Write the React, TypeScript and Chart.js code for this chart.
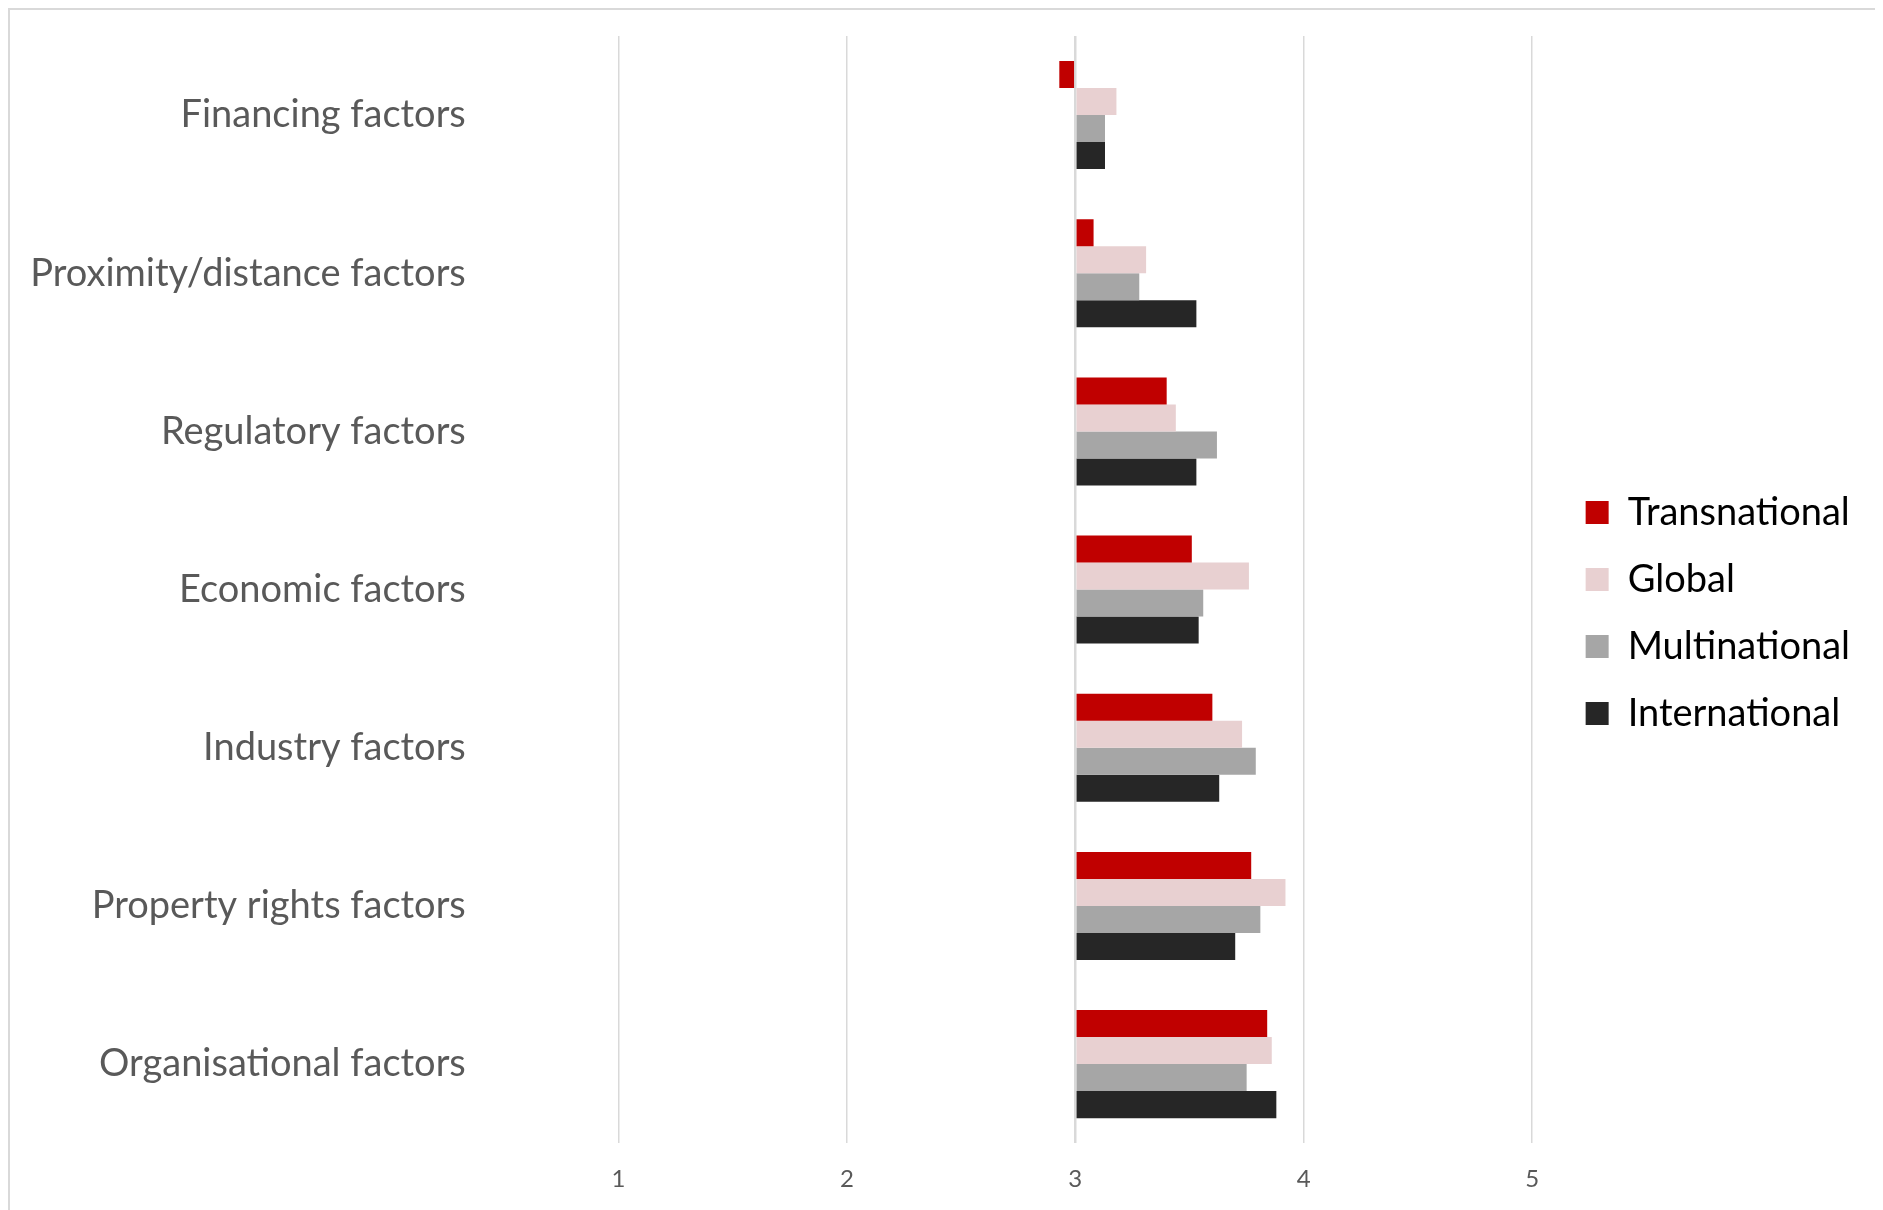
import React, { useEffect, useRef } from "react";
import { Chart, registerables } from "chart.js";

Chart.register(...registerables);

const categories = [
  "Financing factors",
  "Proximity/distance factors",
  "Regulatory factors",
  "Economic factors",
  "Industry factors",
  "Property rights factors",
  "Organisational factors",
];
const transnationalValues = [2.93, 3.08, 3.4, 3.51, 3.6, 3.77, 3.84];
const globalValues = [3.18, 3.31, 3.44, 3.76, 3.73, 3.92, 3.86];
const multinationalValues = [3.13, 3.28, 3.62, 3.56, 3.79, 3.81, 3.75];
const internationalValues = [3.13, 3.53, 3.53, 3.54, 3.63, 3.7, 3.88];
const xTickValues = [1, 2, 3, 4, 5];
const seriesNames = ["Transnational", "Global", "Multinational", "International"];
const seriesColors = ["#C00000", "#E8D0D1", "#A6A6A6", "#262626"];

export default function App() {
  const canvasRef = useRef<HTMLCanvasElement | null>(null);

  useEffect(() => {
    document.body.style.overflow = "hidden";
    document.documentElement.style.overflow = "hidden";
    const canvas = canvasRef.current;
    if (!canvas) return;
    const seriesData = [transnationalValues, globalValues, multinationalValues, internationalValues];
    const chart = new Chart(canvas, {
      type: "bar",
      data: {
        labels: categories,
        datasets: seriesNames.map((name, i) => ({
          label: name,
          data: seriesData[i],
          backgroundColor: seriesColors[i],
          borderWidth: 0,
          base: 3,
          barPercentage: 1,
          categoryPercentage: 0.683,
        })),
      },
      options: {
        indexAxis: "y",
        animation: false,
        responsive: false,
        devicePixelRatio: 1,
        layout: { padding: { top: 0, bottom: 0, left: 0, right: 0 } },
        plugins: {
          legend: {
            position: "right",
            align: "center",
            labels: {
              boxWidth: 23,
              boxHeight: 23,
              padding: 29,
              color: "#000000",
              font: { family: "Lato", size: 38 },
            },
          },
          tooltip: { enabled: false },
        },
        scales: {
          x: {
            type: "linear",
            min: 0.346,
            max: 5.107,
            afterBuildTicks: (scale: any) => {
              scale.ticks = xTickValues.map((v) => ({ value: v }));
            },
            grid: {
              color: "#d9d9d9",
              lineWidth: (ctx: any) => (ctx.tick && ctx.tick.value === 3 ? 2.5 : 1.5),
              drawTicks: false,
            },
            border: { display: false },
            ticks: {
              padding: 22,
              color: "#595959",
              font: { family: "Lato", size: 24 },
            },
          },
          y: {
            afterFit: (scale: any) => {
              scale.width = 459;
            },
            grid: { display: false, drawTicks: false },
            border: { display: false },
            ticks: {
              padding: 3.2,
              color: "#595959",
              font: { family: "Lato", size: 38 },
            },
          },
        },
      },
    } as any);
    return () => chart.destroy();
  }, []);

  return (
    <div
      style={{
        position: "relative",
        width: 1871,
        height: 1215,
        border: "2px solid #d9d9d9",
        boxSizing: "border-box",
        background: "#ffffff",
      }}
    >
      <canvas
        ref={canvasRef}
        width={1850}
        height={1206}
        style={{ position: "absolute", left: 0, top: 0, width: 1850, height: 1206, display: "block" }}
      />
    </div>
  );
}
